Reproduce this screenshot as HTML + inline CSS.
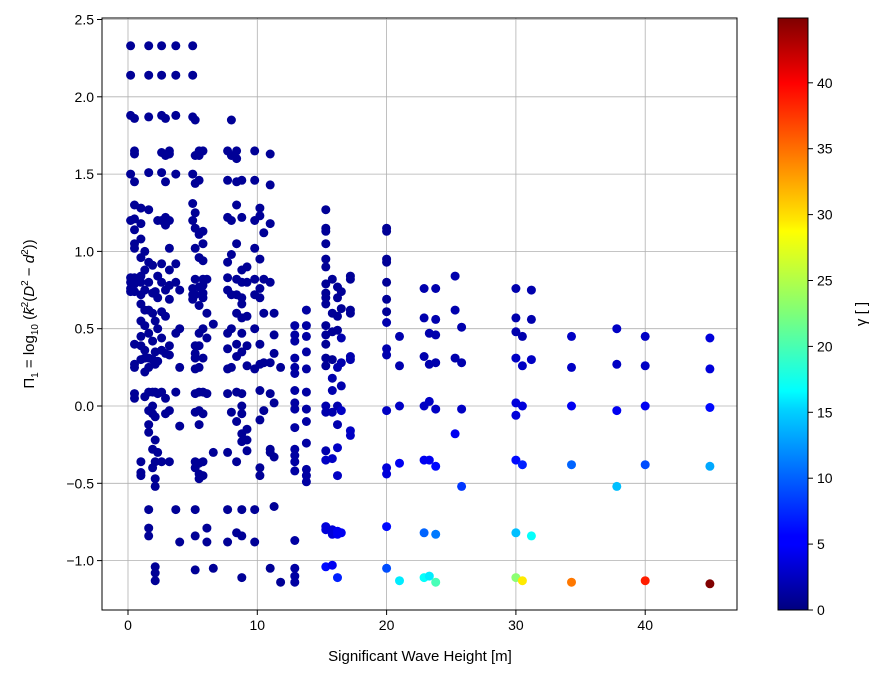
<!DOCTYPE html>
<html><head><meta charset="utf-8"><style>
body{margin:0;background:#fff;}
svg{display:block;font-family:"Liberation Sans","DejaVu Sans",sans-serif;}
</style></head><body>
<svg id="chart" width="883" height="678">
<defs><linearGradient id="jet" x1="0" y1="1" x2="0" y2="0">
<stop offset="0" stop-color="#00007f"/><stop offset="0.11" stop-color="#0000ff"/><stop offset="0.125" stop-color="#0000ff"/>
<stop offset="0.34" stop-color="#00d4ff"/><stop offset="0.37" stop-color="#0ff"/><stop offset="0.5" stop-color="#7dff7a"/>
<stop offset="0.64" stop-color="#ff0"/><stop offset="0.66" stop-color="#ffe600"/><stop offset="0.89" stop-color="#ff0000"/><stop offset="1" stop-color="#7f0000"/>
</linearGradient></defs>
<g id="grid"></g>
<g id="marks"></g>
<rect x="102" y="18" width="635" height="592" fill="none" stroke="#000" stroke-width="1"/>
<g id="axes"></g>
<text x="420" y="661" font-size="15" text-anchor="middle">Significant Wave Height [m]</text>
<text transform="translate(34,314) rotate(-90)" font-size="15" text-anchor="middle">Π<tspan font-size="10" dy="4">1</tspan><tspan dy="-4"> = log</tspan><tspan font-size="10" dy="4">10</tspan><tspan dy="-4"> (</tspan><tspan font-style="italic">k̄</tspan><tspan font-size="10" dy="-6">2</tspan><tspan dy="6">(</tspan><tspan font-style="italic">D</tspan><tspan font-size="10" dy="-6">2</tspan><tspan dy="6"> − </tspan><tspan font-style="italic">d</tspan><tspan font-size="10" dy="-6">2</tspan><tspan dy="6">))</tspan></text>
<rect x="778" y="18" width="30" height="592" fill="url(#jet)" stroke="#000" stroke-width="1"/>
<g id="cbaxis"></g>
<text transform="translate(866,314) rotate(-90)" font-size="15" text-anchor="middle">γ [ ]</text>
</svg>
<script>
const xTicks=[0,10,20,30,40];
const yTicks=[-1.0,-0.5,0.0,0.5,1.0,1.5,2.0,2.5];
const cbTicks=[0,5,10,15,20,25,30,35,40];
const colX=[0.2,0.5,1.0,1.3,1.6,1.9,2.1,2.3,2.6,2.9,3.2,3.7,4.0,5.0,5.2,5.5,5.8,6.1,6.6,7.7,8.0,8.4,8.8,9.2,9.8,10.2,10.5,11.0,11.3,11.8,
12.9,13.8,15.3,15.8,16.2,16.5,17.2,20,21,22.9,23.3,23.8,25.3,25.8,30,30.5,31.2,34.3,37.8,40,45];
const colY=[
[2.33,2.14,1.88,1.50,1.20,0.83,0.80,0.76,0.74],
[1.86,1.65,1.63,1.45,1.30,1.21,1.14,1.05,1.02,0.83,0.79,0.74,0.40,0.27,0.25,0.08,0.05],
[1.28,1.18,1.08,0.96,0.84,0.80,0.72,0.66,0.55,0.45,0.39,0.30,-0.36,-0.43,-0.45],
[1.00,0.88,0.75,0.62,0.52,0.36,0.31,0.22,0.06],
[2.33,2.14,1.87,1.51,1.27,0.93,0.80,0.62,0.47,0.31,0.25,0.09,-0.03,-0.12,-0.17,-0.67,-0.79,-0.84],
[0.91,0.73,0.60,0.42,0.30,0.09,0.0,-0.05,-0.28,-0.40],
[0.74,0.55,0.35,0.27,0.09,-0.07,-0.22,-0.36,-0.47,-0.52,-1.04,-1.08,-1.13],
[1.20,0.84,0.70,0.50,0.29,0.08,-0.30],
[2.33,2.14,1.88,1.64,1.51,1.20,0.92,0.80,0.61,0.44,0.36,0.09,-0.36],
[1.86,1.62,1.45,1.22,1.17,0.75,0.58,0.34,0.05,-0.05],
[1.65,1.63,1.20,1.02,0.88,0.78,0.69,0.39,0.33,-0.03,-0.36],
[2.33,2.14,1.88,1.50,0.92,0.80,0.47,0.09,-0.67],
[0.75,0.50,0.25,-0.13,-0.88],
[2.33,2.14,1.87,1.50,1.31,1.20,0.76,0.72,0.69],
[1.85,1.62,1.44,1.25,1.15,1.02,0.82,0.72,0.39,0.34,0.31,0.24,0.08,-0.04,-0.36,-0.40,-0.67,-0.84,-1.06],
[1.65,1.62,1.46,1.11,0.96,0.77,0.65,0.47,0.39,0.25,0.09,-0.03,-0.12,-0.37,-0.44,-0.47],
[1.65,1.13,1.05,0.94,0.82,0.78,0.73,0.70,0.50,0.31,0.09,-0.05,-0.36,-0.45],
[0.82,0.60,0.44,0.08,-0.79,-0.88],
[0.53,-0.30,-1.05],
[1.65,1.46,1.22,0.93,0.83,0.75,0.47,0.37,0.24,0.08,-0.30,-0.67,-0.88],
[1.85,1.62,1.20,0.98,0.72,0.50,0.25,-0.04],
[1.65,1.60,1.45,1.30,1.05,0.82,0.72,0.60,0.40,0.32,0.09,-0.10,-0.36,-0.82],
[1.46,1.22,0.88,0.80,0.70,0.66,0.57,0.47,0.35,0.08,0.0,-0.05,-0.18,-0.23,-0.67,-0.84,-1.11],
[0.90,0.80,0.58,0.39,0.26,-0.15,-0.22,-0.29],
[1.65,1.46,1.20,1.02,0.82,0.72,0.50,0.24,-0.67,-0.88],
[1.28,1.23,0.95,0.76,0.70,0.40,0.27,0.10,-0.09,-0.40,-0.45],
[1.12,0.82,0.60,0.28,-0.03],
[1.63,1.43,1.18,0.80,0.28,0.08,-0.28,-0.30,-1.05],
[0.60,0.46,0.34,0.02,-0.33,-0.65],
[0.25,-1.14],
[0.52,0.46,0.42,0.31,0.25,0.21,0.10,0.02,-0.02,-0.14,-0.28,-0.32,-0.36,-0.42,-0.87,-1.05,-1.10,-1.14],
[0.62,0.52,0.45,0.35,0.24,0.09,-0.02,-0.10,-0.24,-0.41,-0.45,-0.49],
[1.27,1.15,1.13,1.05,0.95,0.90,0.79,0.73,0.70,0.66,0.52,0.46,0.40,0.31,0.26,0.0,-0.04,-0.29,-0.35,-0.78,-0.80,-1.04],
[0.82,0.60,0.48,0.30,0.18,0.10,-0.04,-0.34,-0.80,-0.83,-1.03],
[0.77,0.70,0.58,0.49,0.25,0.0,-0.12,-0.27,-0.45,-0.81,-0.83,-1.11],
[0.74,0.63,0.44,0.28,0.13,-0.03,-0.82],
[0.84,0.82,0.62,0.60,0.32,0.30,-0.16,-0.19],
[1.15,1.13,0.95,0.93,0.80,0.69,0.61,0.54,0.37,0.33,-0.03,-0.40,-0.44,-0.78,-1.05],
[0.45,0.26,0.0,-0.37,-1.13],
[0.76,0.57,0.32,0.0,-0.35,-0.82,-1.11],
[0.47,0.27,0.03,-0.35,-1.10],
[0.76,0.56,0.46,0.28,-0.02,-0.39,-0.83,-1.14],
[0.84,0.62,0.31,-0.18],
[0.51,0.28,-0.02,-0.52],
[0.76,0.57,0.48,0.31,0.02,-0.06,-0.35,-0.82,-1.11],
[0.45,0.26,0.0,-0.38,-1.13],
[0.75,0.56,0.30,-0.84],
[0.45,0.25,0.0,-0.38,-1.14],
[0.50,0.27,-0.03,-0.52],
[0.45,0.26,0.0,-0.38,-1.13],
[0.44,0.24,-0.01,-0.39,-1.15]
];
const colGamma=[1,1,1,1,1,1,1,1,1,1,1,1,1,1,1,1,1,1,1,1,1,1,1,1,1,1,1,1,1,1,
1.5,1.5,
[1,1,1,1,1,1,1,1,1,1,1,1,1,1,1,2,2,2,3,4,4,6],
[1,1,1,1,2,2,2,3,4,4,5],
[1,1,1,1,2,2,2,3,3,5,5,7],
[1,1,2,2,2,3,5],
[1,1,1,1,2,2,3,3],
[1,1,1,1,1,1,1,2,2,2,3,4,4,6,9],
[2,2,3,5,16],
[2,2,2,3,5,10,17],
[2,2,3,5,16],
[2,2,2,2,3,6,11,20],
[2,2,2,5],
[2,2,3,8],
[2,2,2,3,4,4,6,14,23],
[2,3,4,7,29],
[2,2,3,17],
[3,3,5,10,34],
[3,3,5,14],
[3,3,5,9,38],
[4,4,6,13,45]
];
const NS='http://www.w3.org/2000/svg';
const L=102,R=737,T=18,B=610;
const xS=v=>128+v*12.93;
const yS=v=>406-v*154.6;
const cS=v=>610-v*13.18;
function jet(g){const t=Math.max(0,Math.min(1,g/44.9));const c=a=>Math.round(255*Math.max(0,Math.min(1,1.5-Math.abs(4*t-a))));return `rgb(${c(3)},${c(2)},${c(1)})`;}
function mk(tag,attrs,parent){const e=document.createElementNS(NS,tag);for(const k in attrs)e.setAttribute(k,attrs[k]);parent.appendChild(e);return e;}
const grid=document.getElementById('grid'),axes=document.getElementById('axes'),marks=document.getElementById('marks'),cb=document.getElementById('cbaxis');
xTicks.forEach(v=>{const x=xS(v);
const gl=mk('line',{x1:x,x2:x,y1:T,y2:B,stroke:'#b0b0b0','stroke-width':0.8},grid);

mk('line',{x1:x,x2:x,y1:B,y2:B+5,stroke:'#000'},axes);
const t=mk('text',{x:x,y:B+20,'font-size':14,'text-anchor':'middle'},axes);t.textContent=v;
});
yTicks.forEach(v=>{const y=yS(v);
const gl=mk('line',{x1:L,x2:R,y1:y,y2:y,stroke:'#b0b0b0','stroke-width':0.8},grid);

mk('line',{x1:L-5,x2:L,y1:y,y2:y,stroke:'#000'},axes);
const t=mk('text',{x:L-8,y:y+5,'font-size':14,'text-anchor':'end'},axes);t.textContent=(v<0?'−':'')+Math.abs(v).toFixed(1);
});
cbTicks.forEach(v=>{const y=cS(v);
mk('line',{x1:808,x2:813,y1:y,y2:y,stroke:'#000'},cb);
const t=mk('text',{x:817,y:y+5,'font-size':14},cb);t.textContent=v;
});
colX.forEach((x,i)=>{colY[i].forEach((y,j)=>{const gm=colGamma[i];const g=Array.isArray(gm)?gm[j]:gm;
const c=mk('circle',{cx:xS(x).toFixed(1),cy:yS(y).toFixed(1),r:4.5,fill:jet(g)},marks);

});});
</script>
</body></html>
